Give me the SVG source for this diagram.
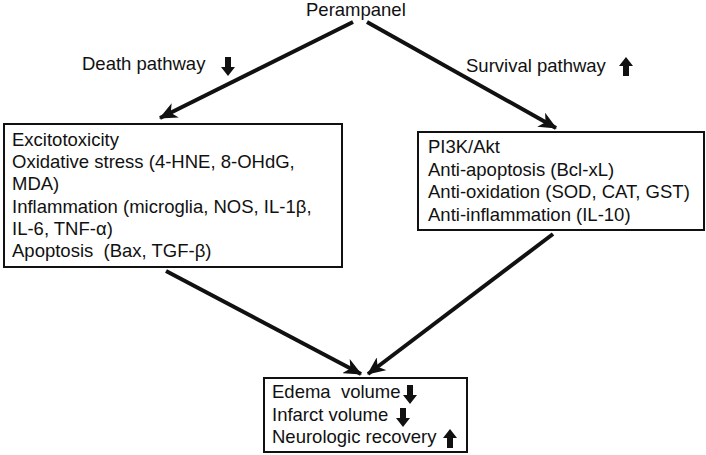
<svg xmlns="http://www.w3.org/2000/svg" width="706" height="455" viewBox="0 0 706 455">
<style>
text{font-family:"Liberation Sans",Arial,sans-serif;font-size:18.5px;fill:#111;white-space:pre}
.box{fill:#fff;stroke:#111;stroke-width:2}
.conn{stroke:#111;stroke-width:4;fill:none;marker-end:url(#ah)}
.blk{fill:#111}
</style>
<defs>
<marker id="ah" markerUnits="userSpaceOnUse" markerWidth="18" markerHeight="16" refX="17" refY="8" orient="auto">
<path d="M0,0 L18,8 L0,16 L5,8 Z" fill="#111"/>
</marker>
<path id="down" d="M-3,0 H3 V10 H7 L0,19 L-7,10 H-3 Z"/>
<path id="up" d="M-3,19 H3 V9 H7 L0,0 L-7,9 H-3 Z"/>
</defs>
<rect width="706" height="455" fill="#fff"/>
<g id="connectors">
<line class="conn" x1="353" y1="22" x2="160" y2="118"/>
<line class="conn" x1="367" y1="22" x2="556" y2="128"/>
<line class="conn" x1="166" y1="271" x2="361" y2="374"/>
<line class="conn" x1="553" y1="234" x2="368" y2="374"/>
</g>
<g id="node-perampanel">
<text x="306" y="16">Perampanel</text>
</g>
<g id="node-death-label">
<text x="82" y="70">Death pathway</text>
<use href="#down" class="blk" x="228" y="57"/>
</g>
<g id="node-survival-label">
<text x="466" y="72">Survival pathway</text>
<use href="#up" class="blk" x="626" y="57"/>
</g>
<g id="node-death-box">
<rect class="box" x="4" y="124" width="338" height="143"/>
<text x="12" y="146">Excitotoxicity</text>
<text x="12" y="168">Oxidative stress (4-HNE, 8-OHdG,</text>
<text x="12" y="190">MDA)</text>
<text x="12" y="213">Inflammation (microglia, NOS, IL-1β,</text>
<text x="12" y="235">IL-6, TNF-α)</text>
<text x="12" y="257">Apoptosis  (Bax, TGF-β)</text>
</g>
<g id="node-survival-box">
<rect class="box" x="418" y="132" width="286" height="98"/>
<text x="428" y="153">PI3K/Akt</text>
<text x="428" y="176">Anti-apoptosis (Bcl-xL)</text>
<text x="428" y="198">Anti-oxidation (SOD, CAT, GST)</text>
<text x="428" y="221">Anti-inflammation (IL-10)</text>
</g>
<g id="node-outcome-box">
<rect class="box" x="264" y="378" width="203" height="74"/>
<text x="272" y="398">Edema  volume</text>
<use href="#down" class="blk" x="410" y="385"/>
<text x="272" y="421">Infarct volume</text>
<use href="#down" class="blk" x="403" y="408"/>
<text x="272" y="443">Neurologic recovery</text>
<use href="#up" class="blk" x="450" y="429"/>
</g>
</svg>
